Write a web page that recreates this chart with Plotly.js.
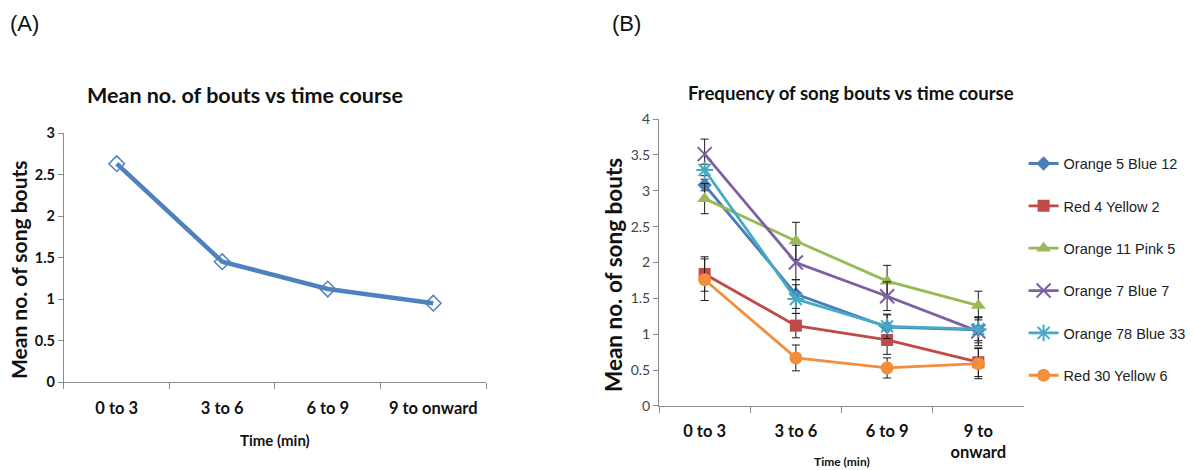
<!DOCTYPE html>
<html>
<head>
<meta charset="utf-8">
<script src="https://cdn.plot.ly/plotly-3.0.1.min.js"></script>
<style>
  html, body { margin: 0; padding: 0; background: #fff; }
  #chart { width: 1193px; height: 470px; }
</style>
</head>
<body>
<div id="chart"></div>
<script>
// Time bins shared by both panels
const periodsA = ['0 to 3', '3 to 6', '6 to 9', '9 to onward'];
const periodsB = ['0 to 3', '3 to 6', '6 to 9', '9 to<br>onward'];

// Panel A: mean number of bouts over all birds
const meanBouts = [2.63, 1.45, 1.12, 0.95];

// Panel B: per-bird means and error bars
const birdNames = ['Orange 5 Blue 12', 'Red 4 Yellow 2', 'Orange 11 Pink 5',
                   'Orange 7 Blue 7', 'Orange 78 Blue 33', 'Red 30 Yellow 6'];
const orange5blue12   = [3.08, 1.56, 1.10, 1.06];
const red4yellow2     = [1.84, 1.12, 0.92, 0.61];
const orange11pink5   = [2.89, 2.30, 1.74, 1.40];
const orange7blue7    = [3.51, 2.00, 1.53, 1.04];
const orange78blue33  = [3.29, 1.49, 1.11, 1.07];
const red30yellow6    = [1.76, 0.67, 0.53, 0.59];

const err_orange5blue12  = [0.08, 0.20, 0.17, 0.18];
const err_red4yellow2    = [0.24, 0.17, 0.20, 0.20];
const err_orange11pink5  = [0.21, 0.26, 0.22, 0.20];
const err_orange7blue7   = [0.21, 0.24, 0.20, 0.20];
const err_orange78blue33 = [0.08, 0.20, 0.17, 0.16];
const err_red30yellow6   = [0.29, 0.18, 0.14, 0.21];

const birdValues = [orange5blue12, red4yellow2, orange11pink5, orange7blue7, orange78blue33, red30yellow6];
const birdErrors = [err_orange5blue12, err_red4yellow2, err_orange11pink5, err_orange7blue7, err_orange78blue33, err_red30yellow6];

const colors = ['#4A7EBB', '#BE4B48', '#98B954', '#7D60A0', '#46AAC5', '#F38E3D'];
const symbols = ['diamond', 'square', 'triangle-up', 'x-thin-open', 'asterisk-open', 'circle'];
const sizes = [11, 12, 13, 14, 14, 13];

const titleFont = 'Lato, "Open Sans", sans-serif';
const bodyFont = '"Liberation Sans", Arial, sans-serif';

const traces = [];

traces.push({
  type: 'scatter', mode: 'lines+markers',
  x: periodsA, y: meanBouts,
  xaxis: 'x', yaxis: 'y',
  line: { color: '#4F81BD', width: 4.5 },
  marker: { symbol: 'diamond-open', size: 12, color: '#4F81BD', line: { width: 1.5, color: '#4F81BD' } },
  showlegend: false, hoverinfo: 'x+y'
});

birdNames.forEach((name, i) => {
  const isLineSym = symbols[i].indexOf('open') >= 0;
  traces.push({
    type: 'scatter', mode: 'lines+markers', name: name,
    x: periodsB, y: birdValues[i],
    xaxis: 'x2', yaxis: 'y2',
    legendgroup: 'g' + i,
    line: { color: colors[i], width: 2.8 },
    marker: {
      symbol: symbols[i], size: sizes[i], color: colors[i],
      line: { width: isLineSym ? 2 : 0, color: colors[i] }
    },
    error_y: { type: 'data', array: birdErrors[i], visible: true, color: '#1a1a1a', thickness: 1, width: 4 }
  });
});

const axisLine = '#8c8c8c';

const layout = {
  width: 1193, height: 470,
  margin: { l: 0, r: 0, t: 0, b: 0 },
  paper_bgcolor: '#ffffff', plot_bgcolor: '#ffffff',
  showlegend: true,
  legend: {
    x: 0.858, y: 0.686, xanchor: 'left', yanchor: 'top',
    font: { family: bodyFont, size: 14.5, color: '#222' },
    tracegroupgap: 20.5, itemwidth: 30,
    traceorder: 'grouped', bgcolor: 'rgba(0,0,0,0)'
  },
  xaxis: {
    domain: [0.0536, 0.4074], anchor: 'y',
    type: 'category', range: [-0.5, 3.5], tickson: 'boundaries',
    showline: true, linecolor: axisLine, linewidth: 1,
    ticks: 'outside', ticklen: 6, tickcolor: axisLine,
    ticklabelstandoff: 11,
    showgrid: false, zeroline: false,
    tickfont: { family: titleFont, size: 16.5, color: '#111', weight: 'bold' }
  },
  yaxis: {
    domain: [0.1872, 0.7170], anchor: 'x',
    range: [0, 3], dtick: 0.5,
    showline: true, linecolor: axisLine, linewidth: 1,
    ticks: 'outside', ticklen: 5, tickcolor: axisLine,
    showgrid: false, zeroline: false,
    tickfont: { family: titleFont, size: 14.5, color: '#111', weight: 'bold' }
  },
  xaxis2: {
    domain: [0.5524, 0.8583], anchor: 'y2',
    type: 'category', range: [-0.5, 3.5], tickson: 'boundaries',
    showline: true, linecolor: axisLine, linewidth: 1,
    ticks: 'outside', ticklen: 6, tickcolor: axisLine,
    ticklabelstandoff: 10,
    showgrid: false, zeroline: false,
    tickfont: { family: titleFont, size: 16.5, color: '#111', weight: 'bold' }
  },
  yaxis2: {
    domain: [0.1362, 0.7468], anchor: 'x2',
    range: [0, 4], dtick: 0.5,
    showline: true, linecolor: axisLine, linewidth: 1,
    ticks: 'outside', ticklen: 5, tickcolor: axisLine,
    showgrid: false, zeroline: false,
    tickfont: { family: titleFont, size: 14, color: '#444' }
  },
  annotations: [
    { text: '(A)', xref: 'paper', yref: 'paper', x: 8 / 1193, y: 1 - 23 / 470, xanchor: 'left', yanchor: 'middle',
      showarrow: false, font: { family: bodyFont, size: 22, color: '#111' } },
    { text: '(B)', xref: 'paper', yref: 'paper', x: 610 / 1193, y: 1 - 23 / 470, xanchor: 'left', yanchor: 'middle',
      showarrow: false, font: { family: bodyFont, size: 22, color: '#111' } },
    { text: 'Mean no. of bouts vs time course', xref: 'paper', yref: 'paper', x: 245 / 1193, y: 1 - 95 / 470,
      xanchor: 'center', yanchor: 'middle', showarrow: false,
      font: { family: titleFont, size: 21.5, color: '#111', weight: 'bold' } },
    { text: 'Frequency of song bouts vs time course', xref: 'paper', yref: 'paper', x: 851 / 1193, y: 1 - 93 / 470,
      xanchor: 'center', yanchor: 'middle', showarrow: false,
      font: { family: titleFont, size: 18.6, color: '#111', weight: 'bold' } },
    { text: 'Mean no. of song bouts', xref: 'paper', yref: 'paper', x: 18 / 1193, y: 1 - 270 / 470,
      xanchor: 'center', yanchor: 'middle', textangle: -90, showarrow: false,
      font: { family: titleFont, size: 21, color: '#111', weight: 'bold' } },
    { text: 'Mean no. of song bouts', xref: 'paper', yref: 'paper', x: 613 / 1193, y: 1 - 275 / 470,
      xanchor: 'center', yanchor: 'middle', textangle: -90, showarrow: false,
      font: { family: titleFont, size: 22.5, color: '#111', weight: 'bold' } },
    { text: 'Time (min)', xref: 'paper', yref: 'paper', x: 275 / 1193, y: 1 - 440 / 470,
      xanchor: 'center', yanchor: 'middle', showarrow: false,
      font: { family: titleFont, size: 15, color: '#111', weight: 'bold' } },
    { text: 'Time (min)', xref: 'paper', yref: 'paper', x: 842 / 1193, y: 1 - 461 / 470,
      xanchor: 'center', yanchor: 'middle', showarrow: false,
      font: { family: titleFont, size: 12, color: '#111', weight: 'bold' } }
  ]
};

Plotly.newPlot('chart', traces, layout, { displayModeBar: false, staticPlot: true });
</script>
</body>
</html>
